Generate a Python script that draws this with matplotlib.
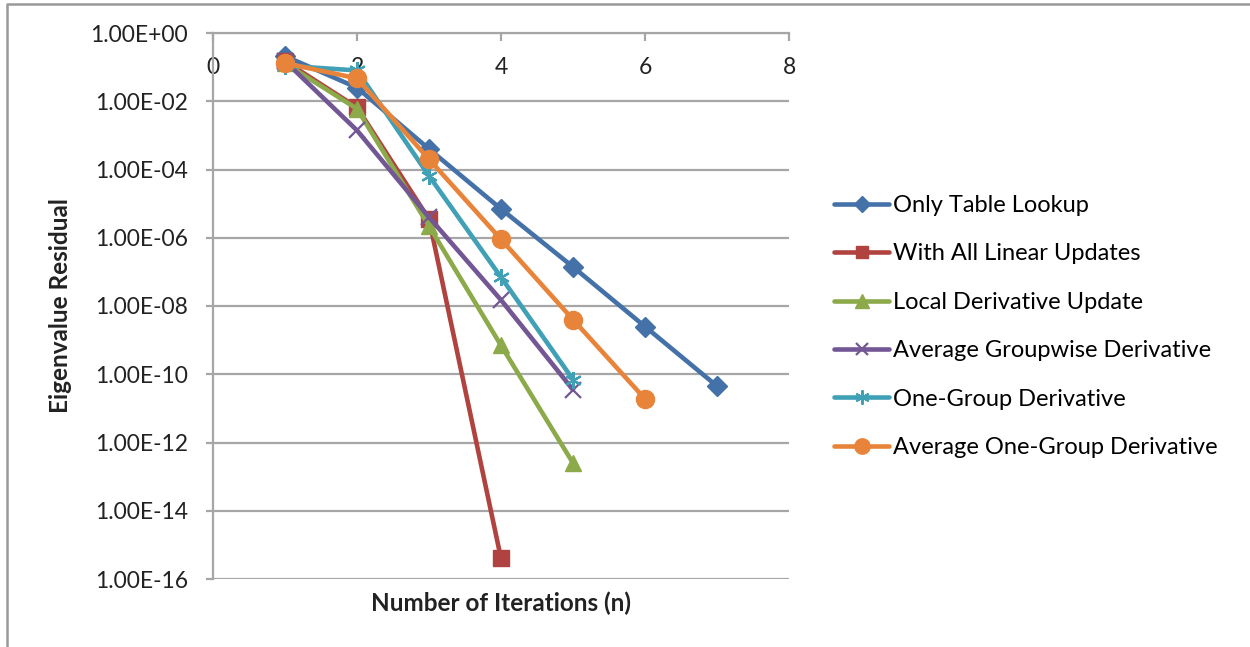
import matplotlib.pyplot as plt
from matplotlib.lines import Line2D

plt.rcParams['font.family'] = ['Lato', 'DejaVu Sans']

# data
labels = ['Only Table Lookup', 'With All Linear Updates', 'Local Derivative Update',
          'Average Groupwise Derivative', 'One-Group Derivative', 'Average One-Group Derivative']
iters = [1, 2, 3, 4, 5, 6, 7]
table_lookup = [0.21, 0.025, 4e-4, 7e-6, 1.4e-7, 2.5e-9, 4.5e-11]
linear_updates = [0.15, 6.6e-3, 3.5e-6, 4e-16]
local_deriv = [0.13, 6e-3, 2.2e-6, 7e-10, 2.5e-13]
avg_groupwise = [0.15, 1.4e-3, 4e-6, 1.5e-8, 3.5e-11]
one_group = [0.11, 0.08, 6.5e-5, 7e-8, 7e-11]
avg_one_group = [0.13, 0.047, 2e-4, 9e-7, 4e-9, 1.9e-11]
yticks = [1e0, 1e-2, 1e-4, 1e-6, 1e-8, 1e-10, 1e-12, 1e-14, 1e-16]
ytick_labels = ['1.00E+00', '1.00E-02', '1.00E-04', '1.00E-06', '1.00E-08',
                '1.00E-10', '1.00E-12', '1.00E-14', '1.00E-16']
xticks = [0, 2, 4, 6, 8]

series = [table_lookup, linear_updates, local_deriv, avg_groupwise, one_group, avg_one_group]
colors = ['#4472A8', '#B0433F', '#8CAA4A', '#735794', '#3FA0B6', '#E8843A']
markers = ['D', 's', '^', 'x', (6, 2, 0), 'o']
msizes = [10, 11, 12, 11, 12, 13]

fig = plt.figure(figsize=(12.5, 6.47), dpi=100)
ax = fig.add_axes([213 / 1250, 1 - 579 / 647, 576 / 1250, 546 / 647])

for vals, lab, c, m, ms in zip(series, labels, colors, markers, msizes):
    mew = 1.6 if m in ('x', (6, 2, 0)) else 1
    ax.plot(iters[:len(vals)], vals, color=c, lw=3.3, marker=m, ms=ms,
            mew=mew, mec=c, mfc=c, label=lab, solid_capstyle='round')

ax.set_yscale('log')
ax.set_ylim(1e-16, 1e0)
ax.set_xlim(0, 8)
ax.set_yticks(yticks)
ax.set_yticklabels(ytick_labels)
ax.minorticks_off()
ax.set_xticks(xticks)

grid_c = '#a6a6a6'
ax.grid(axis='y', color=grid_c, lw=1.6)
ax.set_axisbelow(True)
for s in ['top', 'right']:
    ax.spines[s].set_visible(False)
ax.spines['bottom'].set_position(('data', 1))
ax.spines['bottom'].set_color(grid_c)
ax.spines['bottom'].set_linewidth(1.6)
ax.spines['left'].set_color(grid_c)
ax.spines['left'].set_linewidth(1.6)
ax.tick_params(axis='x', direction='out', length=6, width=1.6, color=grid_c,
               labelsize=16.5, pad=11, labelcolor='#222222')
ax.tick_params(axis='y', direction='out', length=5, width=1.6, color=grid_c,
               labelsize=16.5, pad=13, labelcolor='#222222')

fig.text(60 / 1250, 1 - 306 / 647, 'Eigenvalue Residual', rotation=90, ha='center',
         va='center', fontsize=17.5, fontweight='bold', color='#222222')
fig.text(501 / 1250, 1 - 603 / 647, 'Number of Iterations (n)', ha='center',
         va='center', fontsize=17.5, fontweight='bold', color='#222222')

fig.legend(loc='center left', bbox_to_anchor=(834 / 1250, 1 - 326.5 / 647),
           frameon=False, fontsize=17, handlelength=2.35, handletextpad=0.13,
           labelspacing=1.16, borderpad=0, borderaxespad=0, markerscale=0.85)

# outer chart border (top and left edges visible)
fig.add_artist(Line2D([7 / 1250, 7 / 1250, 1], [0, 1 - 4 / 647, 1 - 4 / 647],
                      color='#999999', lw=1.8, transform=fig.transFigure))

fig.savefig('out.png', dpi=100)
